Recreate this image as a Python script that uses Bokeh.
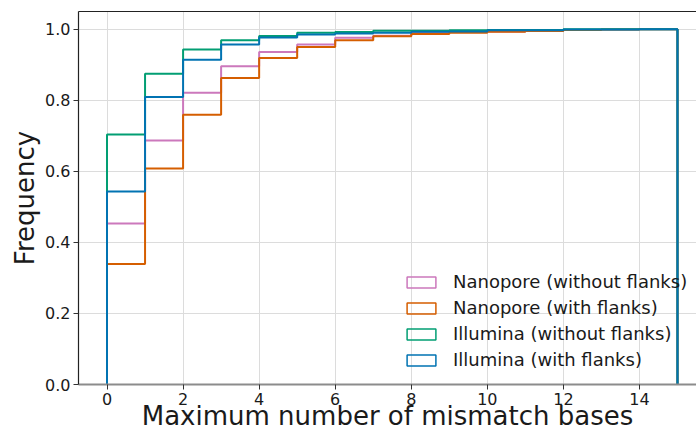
from bokeh.plotting import figure
from bokeh.models import (Range1d, FixedTicker, NumeralTickFormatter, Legend,
                          LegendItem, LinearAxis)
from bokeh.embed import file_html
from bokeh.resources import INLINE

# Cumulative frequency of reads per maximum number of mismatch bases (bins of width 1)
bin_edges = [0, 1, 2, 3, 4, 5, 6, 7, 8, 9, 10, 11, 12, 13, 14, 15]

nanopore_without_flanks = [0.453, 0.687, 0.821, 0.896, 0.936, 0.957, 0.976, 0.982,
                           0.990, 0.992, 0.994, 0.996, 0.998, 0.999, 1.000]
nanopore_with_flanks = [0.339, 0.608, 0.759, 0.863, 0.919, 0.950, 0.969, 0.980,
                        0.987, 0.990, 0.993, 0.995, 0.998, 0.999, 1.000]
illumina_without_flanks = [0.704, 0.875, 0.943, 0.969, 0.981, 0.990, 0.992, 0.996,
                           0.996, 0.997, 0.998, 0.998, 1.000, 1.000, 1.000]
illumina_with_flanks = [0.543, 0.809, 0.914, 0.957, 0.977, 0.985, 0.988, 0.990,
                        0.993, 0.994, 0.997, 0.997, 0.999, 0.999, 1.000]

series_names = ["Nanopore (without flanks)", "Nanopore (with flanks)",
                "Illumina (without flanks)", "Illumina (with flanks)"]
series_values = [nanopore_without_flanks, nanopore_with_flanks,
                 illumina_without_flanks, illumina_with_flanks]
series_colors = ["#CC78BC", "#D55E00", "#029E73", "#0173B2"]

x_ticks = [0, 2, 4, 6, 8, 10, 12, 14]
y_ticks = [0.0, 0.2, 0.4, 0.6, 0.8, 1.0]

FONT = "DejaVu Sans"
TEXT = "#1a1a1a"
NAN = float("nan")

p = figure(width=696, height=434, output_backend="svg", toolbar_location=None,
           x_range=Range1d(-0.75, 15.5), y_range=Range1d(0, 1.05),
           min_border_left=78, min_border_right=0, min_border_top=11,
           min_border_bottom=50)
p.outline_line_color = None
p.background_fill_color = "white"
p.border_fill_color = "white"


def step_outline(edges, vals):
    """Outline of a step histogram: rises at the first edge, drops at the last."""
    xs, ys = [edges[0]], [0.0]
    for i, v in enumerate(vals):
        xs += [edges[i], edges[i + 1]]
        ys += [v, v]
    xs.append(edges[-1])
    ys.append(0.0)
    return xs, ys


items = []
for name, vals, color in zip(series_names, series_values, series_colors):
    xs, ys = step_outline(bin_edges, vals)
    p.line(xs, ys, line_color=color, line_width=2)
    # undrawn quad (NaN extent) so the legend shows an open box swatch
    swatch = p.quad(left=[NAN], right=[NAN], top=[NAN], bottom=[NAN],
                    fill_color=None, line_color=color, line_width=1.5)
    items.append(LegendItem(label=name, renderers=[swatch]))

# grid
p.xgrid.ticker = FixedTicker(ticks=x_ticks)
p.ygrid.ticker = FixedTicker(ticks=y_ticks)
for g in (p.xgrid, p.ygrid):
    g.grid_line_color = "#dcdcdc"
    g.grid_line_width = 1

# axes
xa = p.xaxis[0]
ya = p.yaxis[0]
xa.ticker = FixedTicker(ticks=x_ticks)
ya.ticker = FixedTicker(ticks=y_ticks)
ya.formatter = NumeralTickFormatter(format="0.0")
xa.axis_label = "Maximum number of mismatch bases"
ya.axis_label = "Frequency"
for ax in (xa, ya):
    ax.major_label_text_font = FONT
    ax.major_label_text_font_size = "16px"
    ax.major_label_text_color = TEXT
    ax.axis_label_text_font = FONT
    ax.axis_label_text_font_size = "26px"
    ax.axis_label_text_font_style = "normal"
    ax.axis_label_text_color = TEXT
    ax.major_tick_in = 0
    ax.major_tick_out = 5
    ax.major_tick_line_color = "#333333"
    ax.minor_tick_line_color = None
    ax.major_label_standoff = 3
xa.axis_line_color = "#8c8c8c"
xa.axis_line_width = 2
xa.axis_label_standoff = -7
ya.axis_line_color = "#222222"
ya.axis_line_width = 1.2
ya.axis_label_standoff = 2

# top spine
top = LinearAxis(ticker=FixedTicker(ticks=[]), major_label_text_font_size="0px",
                 major_tick_line_color=None, minor_tick_line_color=None,
                 axis_line_color="#222222", axis_line_width=1.2)
p.add_layout(top, "above")

legend = Legend(items=items, location=(325, 14), orientation="vertical")
legend.label_text_font = FONT
legend.label_text_font_size = "18px"
legend.label_text_color = TEXT
legend.glyph_width = 36
legend.glyph_height = 14
legend.label_standoff = 14
legend.spacing = 5
legend.padding = 0
legend.margin = 0
legend.border_line_color = None
legend.background_fill_alpha = 0
p.add_layout(legend)

open("out.html", "w").write(file_html(p, INLINE))
